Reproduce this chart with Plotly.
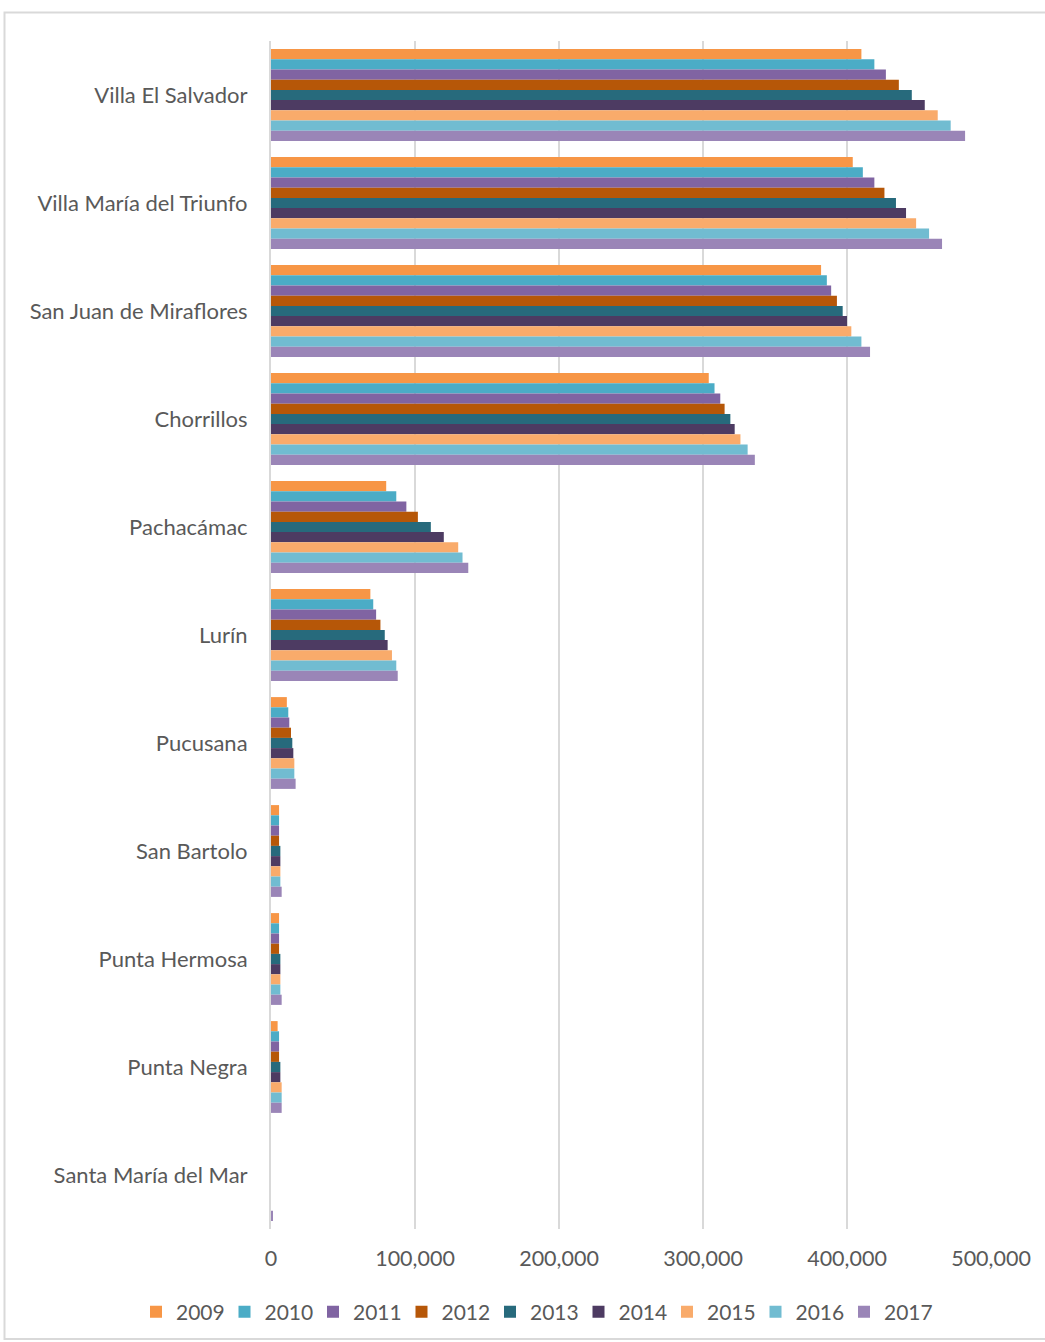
import plotly.graph_objects as go

districts = ["Villa El Salvador", "Villa María del Triunfo", "San Juan de Miraflores",
             "Chorrillos", "Pachacámac", "Lurín", "Pucusana", "San Bartolo",
             "Punta Hermosa", "Punta Negra", "Santa María del Mar"]
years = ["2009", "2010", "2011", "2012", "2013", "2014", "2015", "2016", "2017"]

v2009 = [410000, 404000, 382000, 304000, 80000, 69000, 11000, 5600, 5600, 4600, None]
v2010 = [419000, 411000, 386000, 308000, 87000, 71000, 12000, 5600, 5600, 5600, None]
v2011 = [427000, 419000, 389000, 312000, 94000, 73000, 12700, 5600, 5600, 5600, None]
v2012 = [436000, 426000, 393000, 315000, 102000, 76000, 13900, 5600, 5600, 5600, None]
v2013 = [445000, 434000, 397000, 319000, 111000, 79000, 14800, 6500, 6500, 6500, None]
v2014 = [454000, 441000, 400000, 322000, 120000, 81000, 15500, 6500, 6500, 6500, None]
v2015 = [463000, 448000, 403000, 326000, 130000, 84000, 16200, 6500, 6500, 7400, None]
v2016 = [472000, 457000, 410000, 331000, 133000, 87000, 16200, 6500, 6500, 7400, None]
v2017 = [482000, 466000, 416000, 336000, 137000, 88000, 17100, 7400, 7400, 7400, 1000]

series = [v2009, v2010, v2011, v2012, v2013, v2014, v2015, v2016, v2017]
colors = ["#F79646", "#4BACC6", "#8064A2", "#B65708", "#276A7C",
          "#4D3B62", "#F9AB6B", "#71BCD1", "#9A85B7"]

FONT = "Lato"
TXT = "#595959"

fig = go.Figure()
for yr, vals, col in zip(years, series, colors):
    fig.add_trace(go.Bar(
        x=vals, y=districts, orientation="h", name=yr,
        marker=dict(color=col, line=dict(width=0)),
    ))

W, H = 1045, 1342
L, R, T, B = 271, 991, 41, 1229

def px_x(p):
    return (p - L) / (R - L)

def px_y(p):
    return (B - p) / (B - T)

fig.update_layout(
    width=W, height=H,
    margin=dict(l=L, r=W - R, t=T, b=H - B, autoexpand=False),
    barmode="group", bargap=0.15, bargroupgap=0,
    plot_bgcolor="white", paper_bgcolor="white",
    font=dict(family=FONT, size=22, color=TXT),
    showlegend=True,
    legend=dict(orientation="h", x=px_x(136), xanchor="left",
                y=px_y(1312), yanchor="middle",
                font=dict(family=FONT, size=21, color=TXT),
                itemwidth=30, traceorder="normal",
                entrywidth=43.5, entrywidthmode="pixels"),
    xaxis=dict(range=[0, 500000], tickvals=[0, 100000, 200000, 300000, 400000, 500000],
               ticktext=["0", "100,000", "200,000", "300,000", "400,000", "500,000"],
               showgrid=True, gridcolor="#D9D9D9", gridwidth=2,
               zeroline=False, showline=False, ticks="",
               ticklabelstandoff=14,
               tickfont=dict(family=FONT, size=21.5, color=TXT)),
    yaxis=dict(autorange="reversed", showgrid=False, ticks="",
               showline=True, linecolor="#D9D9D9", linewidth=2,
               ticklabelstandoff=17,
               tickfont=dict(family=FONT, size=22, color=TXT)),
    shapes=[dict(type="rect", xref="paper", yref="paper",
                 x0=px_x(4.5), x1=px_x(1047), y0=px_y(1339), y1=px_y(12.5),
                 line=dict(color="#D9D9D9", width=2), fillcolor="rgba(0,0,0,0)",
                 layer="below")],
)

fig.write_html("out.html")
